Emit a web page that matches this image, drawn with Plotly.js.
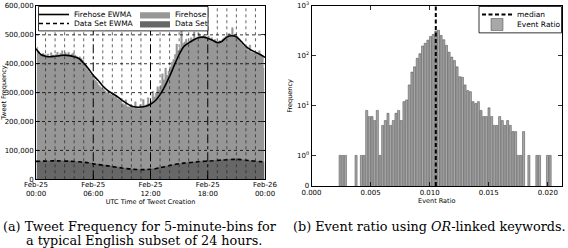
<!DOCTYPE html>
<html><head><meta charset="utf-8">
<script src="https://cdn.plot.ly/plotly-3.0.1.min.js"></script>
<style>html,body{margin:0;padding:0;background:#fff}#chart{width:568px;height:248px}</style>
</head><body><div id="chart"></div>
<script>
// ---------- (a) tweet frequency, 10-minute readings of the 5-minute-bin chart ----------
const dayStart = '2013-02-25 00:00:00';
const dayEnd = '2013-02-26 00:00:00';
const binMinutes = 10;
const firehose = [
 458000,442000,430000,428000,436000,432000,
 428000,434000,425000,438000,430000,427000,
 432000,440000,428000,436000,445000,430000,
 438000,432000,440000,428000,434000,437000,
 430000,426000,420000,424000,418000,412000,
 395000,388000,380000,372000,365000,358000,
 350000,342000,335000,326000,320000,316000,
 312000,306000,300000,304000,294000,292000,
 290000,286000,288000,278000,275000,272000,
 262000,258000,275000,252000,250000,258000,
 250000,246000,268000,250000,244000,258000,
 252000,276000,255000,258000,282000,262000,
 270000,305000,285000,298000,320000,310000,
 325000,365000,345000,385000,360000,375000,
 390000,405000,415000,432000,468000,445000,
 455000,515000,470000,475000,485000,472000,
 478000,490000,485000,510000,482000,492000,
 505000,495000,490000,500000,494000,488000,
 496000,485000,490000,478000,484000,476000,
 472000,480000,475000,486000,490000,495000,
 500000,505000,498000,525000,500000,502000,
 495000,485000,478000,470000,462000,458000,
 455000,446000,465000,440000,438000,442000,
 440000,438000,445000,432000,428000,385000];
const dataSet = [
 64000,62000,63000,61000,63000,62000,
 63000,64000,62000,63000,65000,63000,
 64000,63000,65000,62000,64000,63000,
 63000,62000,64000,63000,61000,62000,
 62000,60000,61000,60000,59000,60000,
 58000,59000,57000,56000,57000,55000,
 54000,53000,52000,52000,51000,50000,
 49000,48000,48000,46000,46000,45000,
 44000,43000,42000,42000,41000,40000,
 39000,38000,38000,37000,36000,36000,
 35000,35000,34000,34000,33000,34000,
 33000,34000,33000,34000,34000,35000,
 35000,36000,37000,38000,39000,41000,
 42000,43000,44000,45000,46000,47000,
 48000,49000,50000,51000,52000,53000,
 54000,55000,55000,56000,57000,57000,
 58000,58000,59000,60000,60000,61000,
 61000,62000,62000,63000,63000,63000,
 64000,64000,65000,65000,65000,66000,
 66000,66000,67000,67000,68000,68000,
 68000,69000,69000,70000,70000,70000,
 70000,69000,69000,68000,67000,67000,
 66000,65000,64000,64000,63000,63000,
 62000,62000,61000,61000,60000,58000];
const ewmaStepMinutes = 30;
const firehoseEwma = [
 452000,432000,426000,424000,426000,428000,430000,428000,424000,418000,
 402000,383000,360000,343000,323000,308000,297000,287000,274000,263000,
 254000,250000,250000,253000,260000,272000,293000,322000,356000,395000,
 432000,460000,472000,482000,490000,492000,488000,481000,473000,478000,
 492000,497000,493000,478000,460000,448000,440000,432000,422000];
const dataSetEwma = [
 62000,62500,63000,63500,64000,63500,63000,62500,61500,60500,
 59000,57000,53500,51000,48500,46500,44000,41500,39000,37000,
 35000,34000,33500,33500,34500,36500,40000,43500,47500,51000,
 54000,56000,57500,59000,60500,62000,63000,64000,65500,66500,
 67500,68500,69000,68000,66000,64000,62500,61000,60000];
const freqTicks = [0,100000,200000,300000,400000,500000,600000];
const timeTickHours = [0,6,12,18,24];

// ---------- (b) event ratio histogram ----------
const ratioBinStart = 0.00231;
const ratioBinWidth = 0.000225;
const eventRatioCounts = [
 1,1,1,0,0,0,1,0,1,1,
 8,6,6,5,8,1,4,5,7,4,
 5,7,8,5,12,13,26,47,60,89,
 110,157,178,206,243,267,314,325,255,210,
 162,118,94,80,60,38,37,26,20,19,
 12,11,12,8,6,6,9,6,4,4,
 6,5,4,5,4,3,3,1,1,3,
 0,1,0,0,1,1,0,0,1,1];
const medianRatio = 0.01052;
const ratioTicks = [0,0.005,0.010,0.015,0.020];
const countTickVals = [0.2432,1,10,100,1000];
const countTickText = ['0','10<sup>0</sup>','10<sup>1</sup>','10<sup>2</sup>','10<sup>3</sup>'];

const captionA1 = '(a) Tweet Frequency for 5-minute-bins for';
const captionA2 = 'a typical English subset of 24 hours.';
const captionB = '(b) Event ratio using <i>OR</i>-linked keywords.';

// ---------- helpers ----------
const t0 = Date.UTC(2013,1,25);
function ts(ms){ return new Date(ms).toISOString().replace('T',' ').slice(0,19); }
const binX = firehose.map((_,i)=>ts(t0 + (i+0.5)*binMinutes*60000));
const ewmaX = firehoseEwma.map((_,i)=>ts(t0 + i*ewmaStepMinutes*60000));
const hourX = h => ts(t0 + h*3600000);
const ratioX = eventRatioCounts.map((_,i)=>ratioBinStart + (i+0.5)*ratioBinWidth);

const W=568,H=248;
const px = v=>v/W, py = v=>1-v/H;
const FONT = 'DejaVu Sans';
const SERIF = '"DejaVu Serif", "Liberation Serif", serif';
const FIRE = '#979797', DSET = '#676767';

const traces = [
 // 5-minute-bin bars drawn as a stepped filled profile (adjacent bars without seams)
 {type:'scatter', mode:'lines', x:binX, y:firehose, name:'Firehose', fill:'tozeroy', fillcolor:FIRE,
  line:{color:FIRE, width:0.5, shape:'hvh'}, xaxis:'x', yaxis:'y', legend:'legend3'},
 {type:'scatter', mode:'lines', x:binX, y:dataSet, name:'Data Set', fill:'tozeroy', fillcolor:DSET,
  line:{color:DSET, width:0.5, shape:'hvh'}, xaxis:'x', yaxis:'y', legend:'legend4'},
 {type:'scatter', mode:'lines', x:ewmaX, y:firehoseEwma, name:'Firehose EWMA',
  line:{color:'#000', width:1.6, shape:'spline', smoothing:0.6}, xaxis:'x', yaxis:'y', legend:'legend'},
 {type:'scatter', mode:'lines', x:ewmaX, y:dataSetEwma, name:'Data Set EWMA',
  line:{color:'#000', width:1.6, dash:'4px,3px', shape:'spline', smoothing:0.6}, xaxis:'x', yaxis:'y', legend:'legend2'},
 {type:'bar', x:ratioX, y:eventRatioCounts.map(c=>c>0?c:null), name:'Event Ratio',
  marker:{color:'#a8a8a8', line:{color:'#444', width:0.5}}, xaxis:'x2', yaxis:'y2', legend:'legend6'}
];

const shapes = [];
for(let h=1; h<24; h++){
  const major = h%6===0;
  shapes.push({type:'line', xref:'x', yref:'y domain', x0:hourX(h), x1:hourX(h), y0:0, y1:1, layer:'above',
    line:{color: major?'#000':'#222', width: major?1:0.7, dash: major?'dashdot':'dot'}});
}
freqTicks.slice(1,-1).forEach(v=>{
  shapes.push({type:'line', xref:'x domain', yref:'y', x0:0, x1:1, y0:v, y1:v, layer:'above',
    line:{color:'#000', width:0.8, dash:'dot'}});
});
// legend frames
shapes.push({type:'rect', xref:'paper', yref:'paper', x0:px(38.5), x1:px(208), y0:py(5.5), y1:py(30), layer:'above',
  fillcolor:'#fff', line:{color:'#000', width:0.8}});
shapes.push({type:'rect', xref:'paper', yref:'paper', x0:px(479), x1:px(561.5), y0:py(5.5), y1:py(32), layer:'above',
  fillcolor:'#fff', line:{color:'#000', width:0.8}});
// median line
shapes.push({type:'line', xref:'x2', yref:'y2 domain', x0:medianRatio, x1:medianRatio, y0:0, y1:1, layer:'above',
  line:{color:'#000', width:2, dash:'4px,2.5px'}, showlegend:true, name:'median', legend:'legend5'});

const tickFont = {family:FONT, size:7, color:'#000'};
const legFont = {family:FONT, size:7.5, color:'#000'};
const mkLeg = (x,y)=>({x:px(x), y:py(y), xanchor:'left', yanchor:'middle', bgcolor:'rgba(0,0,0,0)',
  borderwidth:0, font:legFont, itemwidth:30, tracegroupgap:0});

const axCommon = {ticks:'inside', ticklen:4, tickwidth:0.8, tickcolor:'#000', showline:true, linecolor:'#000',
  linewidth:1, mirror:'ticks', showgrid:false, zeroline:false, tickfont:tickFont};

const capFont = {family:SERIF, size:12.8, color:'#000'};

const layout = {
  width:W, height:H, margin:{l:0,r:0,t:0,b:0}, paper_bgcolor:'#fff', plot_bgcolor:'#fff',
  barmode:'overlay', bargap:0.22, showlegend:true,
  font:{family:FONT, color:'#000'},
  xaxis:Object.assign({}, axCommon, {domain:[px(36),px(265)], anchor:'y', type:'date', range:[dayStart, dayEnd],
    tickmode:'array', tickvals:timeTickHours.map(hourX), tickformat:'%b-%d<br>%H:%M', ticklabelstandoff:-2,
    title:{text:'UTC Time of Tweet Creation', font:{family:FONT,size:6.5}, standoff:1}}),
  yaxis:Object.assign({}, axCommon, {domain:[py(179),py(5)], anchor:'x', range:[0,600000],
    tickmode:'array', tickvals:freqTicks, tickformat:',d',
    title:{text:'Tweet Frequency', font:{family:FONT,size:6.5}, standoff:3}}),
  xaxis2:Object.assign({}, axCommon, {domain:[px(311.5),px(562)], anchor:'y2', range:[0,0.0212],
    tickmode:'array', tickvals:ratioTicks, tickformat:'.3f',
    title:{text:'Event Ratio', font:{family:FONT,size:6.5}, standoff:1}}),
  yaxis2:Object.assign({}, axCommon, {domain:[py(185.7),py(5)], anchor:'x2', type:'log', range:[-0.614,3],
    tickmode:'array', tickvals:countTickVals, ticktext:countTickText,
    title:{text:'Frequency', font:{family:FONT,size:6.5}, standoff:3}}),
  legend: mkLeg(34,13.5),
  legend2: mkLeg(34,23.5),
  legend3: mkLeg(135,13.5),
  legend4: mkLeg(135,23.5),
  legend5: mkLeg(477,13.5),
  legend6: mkLeg(477,24.5),
  shapes: shapes,
  annotations: [
    {text:captionA1, xref:'paper', yref:'paper', x:px(1), y:py(226.5), xanchor:'left', yanchor:'middle', showarrow:false, font:capFont},
    {text:captionA2, xref:'paper', yref:'paper', x:px(24), y:py(240.5), xanchor:'left', yanchor:'middle', showarrow:false, font:capFont},
    {text:captionB, xref:'paper', yref:'paper', x:px(291), y:py(226.5), xanchor:'left', yanchor:'middle', showarrow:false, font:capFont}
  ]
};

Plotly.newPlot('chart', traces, layout, {staticPlot:true, displayModeBar:false});
</script></body></html>
